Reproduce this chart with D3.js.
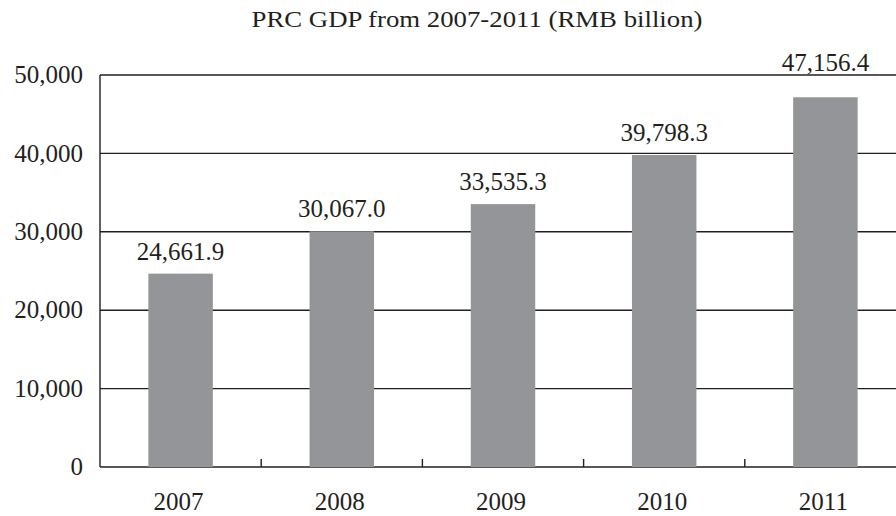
<!DOCTYPE html>
<html>
<head>
<meta charset="utf-8">
<script src="https://cdn.jsdelivr.net/npm/d3@7"></script>
<style>
  html, body { margin: 0; padding: 0; background: #fff; }
  svg { display: block; }
  text { font-family: "Liberation Serif", "Times New Roman", serif; fill: #231f20; }
</style>
</head>
<body>
<svg id="chart" width="896" height="516"></svg>
<script>
const title = "PRC GDP from 2007-2011 (RMB billion)";
const years = ["2007", "2008", "2009", "2010", "2011"];
const gdp = [24661.9, 30067.0, 33535.3, 39798.3, 47156.4];
const yTicks = [0, 10000, 20000, 30000, 40000, 50000];

(function () {
const svg = d3.select("#chart");
const W = 896;
const mLeft = 100, mRight = 906, mTop = 75, mBottom = 467;

const x = d3.scaleBand().domain(years).range([mLeft, mRight]).paddingInner(0.6).paddingOuter(0.3);
const y = d3.scaleLinear().domain([0, 50000]).range([mBottom, mTop]);
const fmtTick = d3.format(",");
const fmtVal = d3.format(",.1f");

// gridlines
svg.append("g").selectAll("line").data(yTicks).join("line")
  .attr("x1", mLeft).attr("x2", W)
  .attr("y1", d => y(d)).attr("y2", d => y(d))
  .attr("stroke", "#231f20").attr("stroke-width", 1.4);

// y axis line
svg.append("line").attr("x1", mLeft).attr("x2", mLeft)
  .attr("y1", y(50000)).attr("y2", y(0))
  .attr("stroke", "#231f20").attr("stroke-width", 1.4);

// y tick labels
svg.append("g").selectAll("text").data(yTicks).join("text")
  .attr("x", 83).attr("y", d => y(d)).attr("dy", "0.33em")
  .attr("text-anchor", "end").attr("font-size", 25)
  .text(d => fmtTick(d));

// bars
svg.append("g").selectAll("rect").data(years).join("rect")
  .attr("x", d => x(d)).attr("width", x.bandwidth())
  .attr("y", (d, i) => y(gdp[i])).attr("height", (d, i) => y(0) - y(gdp[i]))
  .attr("fill", "#939598");

// category separator ticks
const bounds = years.slice(1).map(d => x(d) - x.step() * x.paddingInner() / 2);
svg.append("g").selectAll("line").data(bounds).join("line")
  .attr("x1", d => d).attr("x2", d => d)
  .attr("y1", y(0)).attr("y2", y(0) - 8)
  .attr("stroke", "#231f20").attr("stroke-width", 1.4);

// value labels (moved above the top gridline if they would cross it)
function labelY(v) {
  const ly = y(v) - 14;
  return (ly - 18 < y(50000)) ? y(50000) - 4 : ly;
}
svg.append("g").selectAll("text").data(years).join("text")
  .attr("x", d => x(d) + x.bandwidth() / 2)
  .attr("y", (d, i) => labelY(gdp[i]))
  .attr("text-anchor", "middle").attr("font-size", 25)
  .text((d, i) => fmtVal(gdp[i]));

// x labels
svg.append("g").selectAll("text").data(years).join("text")
  .attr("x", d => x(d) + x.bandwidth() / 2 - 2)
  .attr("y", 510)
  .attr("text-anchor", "middle").attr("font-size", 25)
  .text(d => d);

// title
svg.append("text").attr("x", 477).attr("y", 27)
  .attr("text-anchor", "middle").attr("font-size", 24)
  .attr("textLength", 451).attr("lengthAdjust", "spacingAndGlyphs")
  .text(title);
})();
</script>
</body>
</html>
